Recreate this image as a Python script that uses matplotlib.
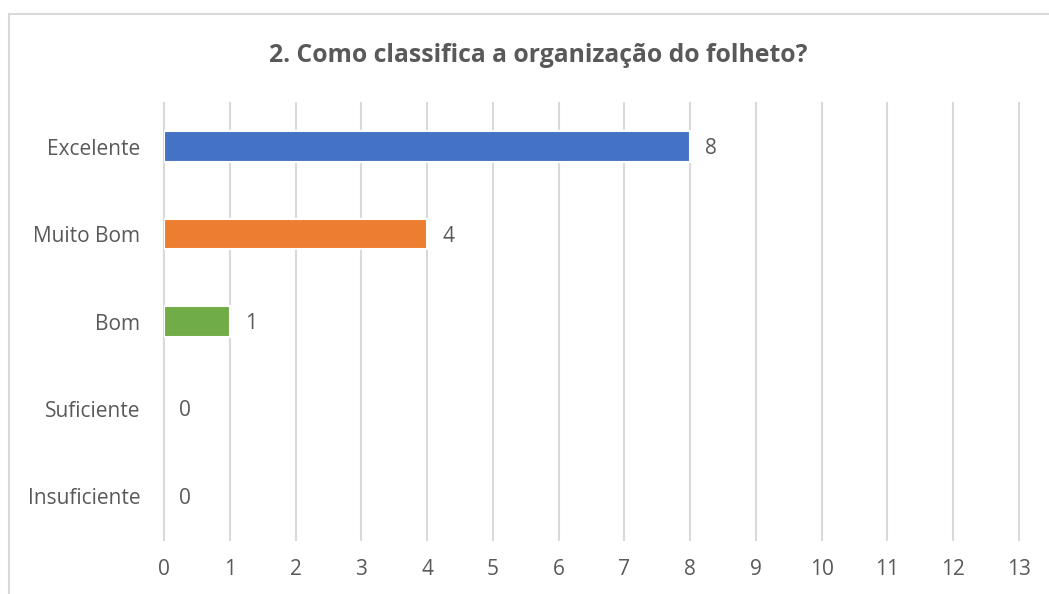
import matplotlib
matplotlib.use("Agg")
import matplotlib.pyplot as plt

categories = ["Excelente", "Muito Bom", "Bom", "Suficiente", "Insuficiente"]
values = [8, 4, 1, 0, 0]
colors = ["#4472C4", "#ED7D31", "#70AD47", "#A5A5A5", "#FFC000"]
xticks = list(range(0, 14))
title = "2. Como classifica a organização do folheto?"

plt.rcParams['font.family'] = ['Open Sans', 'DejaVu Sans']
TXT = "#595959"
GRID = "#D9D9D9"

fig = plt.figure(figsize=(10.49, 5.94), dpi=100)
W, H = 1049, 594
ax = fig.add_axes([164 / W, 1 - 540 / H, (1019 - 164) / W, (540 - 103) / H])

# chart border (top and left visible)
fig.add_artist(plt.Line2D([9 / W, 1.0], [1 - 14 / H, 1 - 14 / H], color=GRID, lw=1.5, transform=fig.transFigure))
fig.add_artist(plt.Line2D([9 / W, 9 / W], [0, 1 - 14 / H], color=GRID, lw=1.5, transform=fig.transFigure))

ypos = list(range(len(categories)))
bars = ax.barh(ypos, values, height=0.35, color=colors, edgecolor="white", linewidth=1.5, zorder=3)
for b, v in zip(bars, values):
    if v == 0:
        b.set_visible(False)
ax.set_ylim(len(categories) - 0.5, -0.5)
ax.set_xlim(0, 13)
ax.set_xticks(xticks)
ax.set_xticklabels([str(t) for t in xticks], fontsize=15, color=TXT)
ax.set_yticks(ypos)
ax.set_yticklabels(categories, fontsize=15, color=TXT)
ax.tick_params(axis='both', length=0)
ax.tick_params(axis='x', pad=14)
ax.tick_params(axis='y', pad=17)
ax.xaxis.grid(True, color=GRID, lw=1.5, zorder=0)
for gl in ax.get_xgridlines():
    gl.set_clip_on(False)
ax.set_axisbelow(True)
for s in ax.spines.values():
    s.set_visible(False)

for y, v in zip(ypos, values):
    ax.annotate(str(v), xy=(v, y), xytext=(15, -2), textcoords="offset pixels",
                ha="left", va="center", fontsize=15, color=TXT)

fig.text(538 / W, 1 - 62 / H, title, ha="center", va="baseline", fontsize=17.8, fontweight="bold", color=TXT)

fig.savefig("out.png", dpi=100, facecolor="white")
